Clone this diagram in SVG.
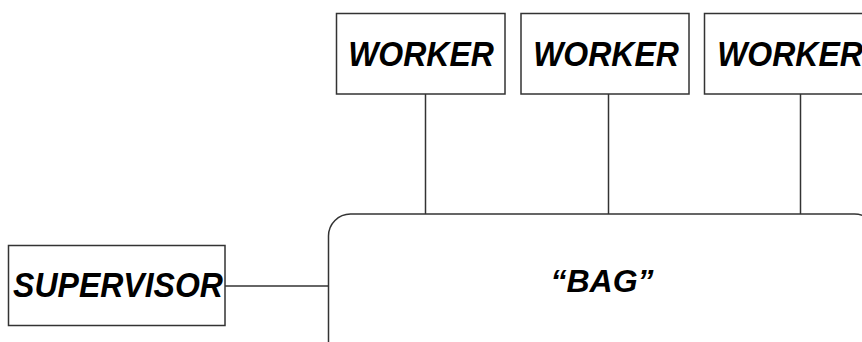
<svg xmlns="http://www.w3.org/2000/svg" width="862" height="342" viewBox="0 0 862 342">
<style>
.box{fill:#fff;stroke:#333;stroke-width:1.5}
.t{font-family:"Liberation Sans",Arial,sans-serif;font-weight:bold;font-style:italic;font-size:32px;fill:#000;text-anchor:middle}
.c{stroke:#333;stroke-width:1.5;fill:none}
</style>
<rect width="862" height="342" fill="#fff"/>
<g id="connectors">
<line class="c" x1="425.5" y1="94" x2="425.5" y2="214"/>
<line class="c" x1="608.5" y1="94" x2="608.5" y2="214"/>
<line class="c" x1="800.5" y1="94" x2="800.5" y2="214"/>
<line class="c" x1="225" y1="286" x2="328.5" y2="286"/>
</g>
<g id="bag">
<rect class="box" x="328.5" y="214" width="548" height="150" rx="22" ry="22"/>
<text class="t" x="602" y="292" font-size="30">“BAG”</text>
</g>
<g id="worker1">
<rect class="box" x="336.5" y="13.5" width="168.5" height="80.5"/>
<text class="t" transform="translate(421 66) scale(1 1.08)">WORKER</text>
</g>
<g id="worker2">
<rect class="box" x="521" y="13.5" width="168" height="80.5"/>
<text class="t" transform="translate(606 66) scale(1 1.08)">WORKER</text>
</g>
<g id="worker3">
<rect class="box" x="704.5" y="13.5" width="169" height="80.5"/>
<text class="t" transform="translate(790 66) scale(1 1.08)">WORKER</text>
</g>
<g id="supervisor">
<rect class="box" x="8.5" y="245.5" width="216.5" height="80"/>
<text class="t" transform="translate(118 297) scale(1 1.08)">SUPERVISOR</text>
</g>
</svg>
